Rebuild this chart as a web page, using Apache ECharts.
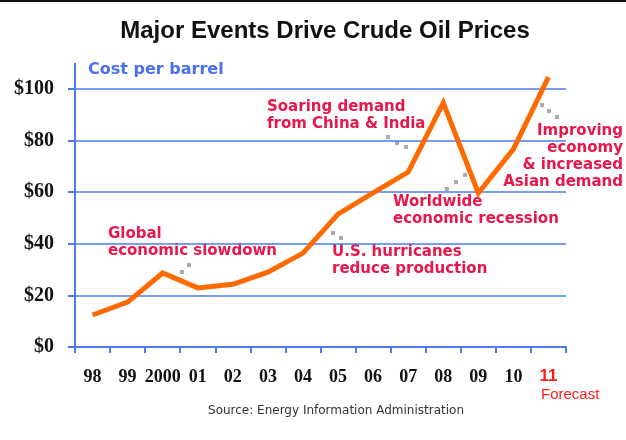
<!DOCTYPE html>
<html><head><meta charset="utf-8">
<script src="https://cdn.jsdelivr.net/npm/echarts@6/dist/echarts.min.js"></script>
<style>html,body{margin:0;padding:0;background:#fff}#c{width:626px;height:440px}</style>
</head><body><div id="c"></div>
<script>
const years = ['98','99','2000','01','02','03','04','05','06','07','08','09','10','11'];
const prices = [12.4, 17.4, 28.7, 22.9, 24.3, 29.0, 36.4, 51.5, 59.7, 67.8, 94.6, 59.7, 76.7, 104.6];
const yMin = 0, yMax = 100, yStep = 20;
const titleText = 'Major Events Drive Crude Oil Prices';
const unitText = 'Cost per barrel';
const sourceText = 'Source: Energy Information Administration';
const forecastText = 'Forecast';
const noteGlobal = 'Global\neconomic slowdown';
const noteHurricane = 'U.S. hurricanes\nreduce production';
const noteChina = 'Soaring demand\nfrom China & India';
const noteRecession = 'Worldwide\neconomic recession';
const noteImproving = 'Improving\neconomy\n& increased\nAsian demand';

const BLUE = '#4d7cf2', RED = '#e8174a', ORANGE = '#ff6a00', DOT = '#ababab';
const noteFont = {fontFamily: 'DejaVu Sans', fontWeight: 'bold', fontSize: 15, lineHeight: 17, fill: RED};

function note(text, x, y, align) {
  return {type: 'text', x: x, y: y, style: Object.assign({text: text, align: align || 'left', verticalAlign: 'top'}, noteFont)};
}
function dots(pts) {
  return pts.map(p => ({type: 'rect', shape: {x: p[0]-2, y: p[1]-2, width: 4, height: 4}, style: {fill: DOT}}));
}

const chart = echarts.init(document.getElementById('c'), null, {renderer: 'canvas'});
chart.setOption({
  animation: false,
  backgroundColor: '#fff',
  grid: {left: 75, right: 60, top: 89, bottom: 93, containLabel: false, outerBoundsMode: 'none'},
  xAxis: {
    type: 'category', data: years, boundaryGap: true,
    axisLine: {lineStyle: {color: BLUE, width: 2}},
    axisTick: {show: true, length: 6, lineStyle: {color: BLUE, width: 2}},
    axisLabel: {
      margin: 21, interval: 0,
      fontFamily: 'Liberation Serif', fontWeight: 'bold', fontSize: 18, color: '#111',
      formatter: v => v === years[years.length-1] ? '{r|' + v + '}' : v,
      rich: {r: {fontFamily: 'Liberation Sans', fontWeight: 'bold', fontSize: 17, color: '#ff1a1a'}}
    },
    splitLine: {show: false}
  },
  yAxis: {
    type: 'value', min: yMin, max: yMax, interval: yStep,
    axisLine: {show: true, lineStyle: {color: BLUE, width: 2}},
    axisTick: {show: true, length: 7, lineStyle: {color: BLUE, width: 2}},
    axisLabel: {margin: 21, fontFamily: 'Liberation Serif', fontWeight: 'bold', fontSize: 20, color: '#111',
      formatter: v => '$' + v},
    splitLine: {show: true, lineStyle: {color: BLUE, width: 1.5}}
  },
  series: [{
    type: 'line', data: prices, showSymbol: false, symbol: 'none', clip: false,
    lineStyle: {color: ORANGE, width: 5, join: 'miter'}, z: 5
  }],
  graphic: [
    {type: 'rect', shape: {x: 0, y: 0, width: 626, height: 2}, style: {fill: '#111'}},
    {type: 'text', x: 325, y: 31, style: {text: titleText, align: 'center', verticalAlign: 'middle',
      fontFamily: 'Liberation Sans', fontWeight: 'bold', fontSize: 24, fill: '#111'}},
    {type: 'line', shape: {x1: 75, y1: 63, x2: 75, y2: 89}, style: {stroke: BLUE, lineWidth: 2}},
    {type: 'text', x: 88, y: 70, style: {text: unitText, align: 'left', verticalAlign: 'middle',
      fontFamily: 'DejaVu Sans', fontWeight: 'bold', fontSize: 16, fill: '#4a70ee'}},
    {type: 'text', x: 541, y: 395, style: {text: forecastText, align: 'left', verticalAlign: 'middle',
      fontFamily: 'Liberation Sans', fontSize: 15, fill: '#ff1a1a'}},
    {type: 'text', x: 336, y: 411, style: {text: sourceText, align: 'center', verticalAlign: 'middle',
      fontFamily: 'DejaVu Sans', fontSize: 12, fill: '#333'}},
    note(noteGlobal, 108, 226),
    note(noteChina, 267, 99),
    note(noteHurricane, 332, 244),
    note(noteRecession, 393, 194),
    note(noteImproving, 623, 123, 'right'),
    ...dots([[182,272],[189,265]]),
    ...dots([[333,233],[341,238]]),
    ...dots([[388,137],[397,143],[406,147]]),
    ...dots([[447,189],[456,182],[465,175]]),
    ...dots([[542,105],[549,111],[557,117]])
  ]
});
</script></body></html>
